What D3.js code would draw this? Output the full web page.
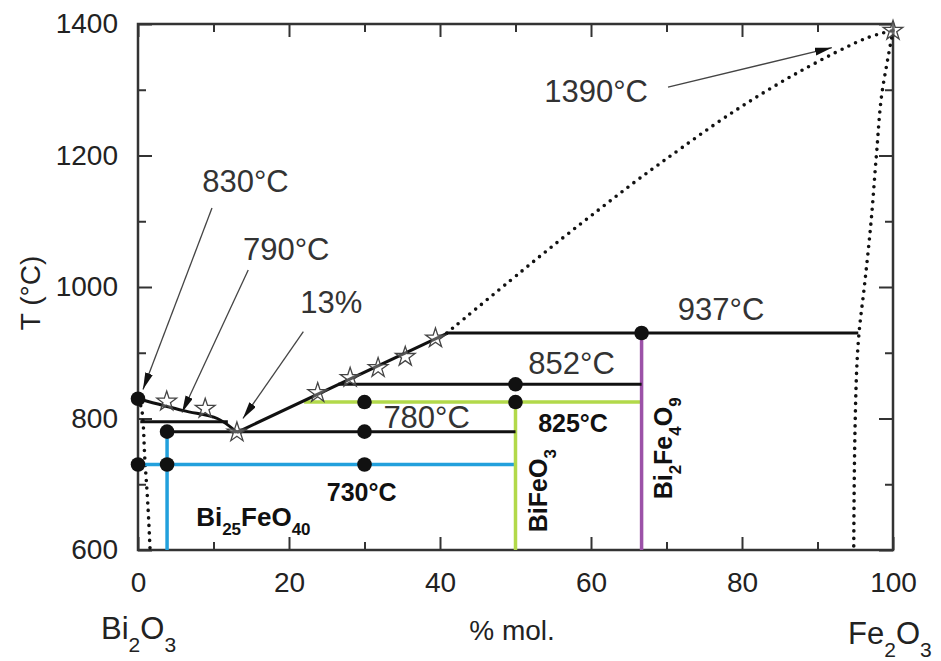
<!DOCTYPE html>
<html><head><meta charset="utf-8">
<script src="https://cdn.jsdelivr.net/npm/d3@7"></script>
<style>body{margin:0;background:#fff} svg{display:block} text{font-family:"Liberation Sans",Arial,Helvetica,sans-serif}</style>
</head><body><svg id="c" width="941" height="661"></svg>
<script>
// ---- data ----
const xMajorTicks = [0, 20, 40, 60, 80, 100];
const xMinorTicks = [10, 30, 50, 70, 90];
const yMajorTicks = [600, 800, 1000, 1200, 1400];
const yMinorTicks = [700, 900, 1100, 1300];

const liquidusLeft = [[0, 830], [6, 812], [10.5, 800], [13.1, 779]];
const liquidusRight = [[13.1, 779], [41, 930]];
const liquidusDotted = [[40.9, 930], [50.6, 1022], [56.3, 1075], [61.2, 1119], [65.6, 1158], [70, 1195], [78.8, 1266], [87.7, 1328], [96.6, 1379], [100, 1390]];
const solidusBi = [[0, 830], [0.55, 810], [0.9, 740], [1.3, 670], [1.6, 600]];
const solidusFe = [[100, 1390], [99.2, 1340], [98.6, 1300], [97.8, 1200], [97.1, 1100], [96.2, 1000], [95.5, 930], [95.0, 800], [94.8, 600]];

// tie lines: [xStart, xEnd, T]
const blackTies = [[0.3, 11.9, 795], [3.85, 50, 780], [26.5, 66.7, 852], [40.9, 95.4, 930]];
const greenTies = [[22, 66.7, 825]];
const blueTies = [[0, 50, 730]];
// vertical compound lines: [x, Ttop, Tbottom]
const blueVert = [[3.85, 780, 600]];
const greenVert = [[50, 825, 600]];
const purpleVert = [[66.7, 930, 600]];

const dots = [[0, 830], [0, 730], [3.85, 780], [3.85, 730], [30, 825], [30, 780], [30, 730], [50, 852], [50, 825], [66.7, 930]];
const stars = [[3.8, 826], [8.9, 815], [13.1, 779], [23.8, 839], [28.1, 862], [31.8, 877], [35.4, 894], [39.4, 922], [100, 1390]];

// annotations: text, x, T
const labels = [["830°C", 8.5, 1145], ["790°C", 13.9, 1041], ["13%", 21.5, 961], ["1390°C", 53.8, 1282],
  ["937°C", 71.5, 950], ["852°C", 51.7, 867], ["780°C", 32.5, 786]];
const boldLabels = [["825°C", 53, 780], ["730°C", 25, 674]];
// arrows: [x1,T1,x2,T2]
const arrows = [[9.8, 1120, 0.66, 844], [14.6, 1026, 5.83, 809], [21.9, 932, 13.9, 800], [70.2, 1304, 91.9, 1364]];

// ---- chart ----
const svg = d3.select("#c");
const x = d3.scaleLinear().domain([0, 100]).range([138, 893]);
const y = d3.scaleLinear().domain([600, 1400]).range([550, 24]);
const FS = 28;

svg.append("defs").append("marker").attr("id", "ah")
  .attr("markerUnits", "userSpaceOnUse").attr("markerWidth", 18).attr("markerHeight", 10)
  .attr("refX", 17).attr("refY", 4).attr("orient", "auto")
  .append("path").attr("d", "M0,0 L17,4 L0,8 Z").attr("fill", "#111");

const line = d3.line().x(d => x(d[0])).y(d => y(d[1]));
const curve = d3.line().x(d => x(d[0])).y(d => y(d[1])).curve(d3.curveCatmullRom);
const curveY = d3.line().x(d => x(d[0])).y(d => y(d[1])).curve(d3.curveMonotoneY);

// axes
function styleAxis(g) {
  g.select(".domain").remove();
  g.selectAll("line").attr("stroke", "#333").attr("stroke-width", 2);
  g.selectAll("text").attr("font-size", FS).attr("fill", "#222");
}
svg.append("g").attr("transform", `translate(0,${y(600)})`)
  .call(d3.axisBottom(x).tickValues(xMajorTicks).tickSize(-13).tickPadding(22).tickFormat(d3.format("d"))).call(styleAxis);
svg.append("g").attr("transform", `translate(0,${y(600)})`)
  .call(d3.axisBottom(x).tickValues(xMinorTicks).tickSize(-8).tickFormat("")).call(styleAxis);
svg.append("g").attr("transform", `translate(0,${y(1400)})`)
  .call(d3.axisTop(x).tickValues(xMajorTicks).tickSize(-13).tickFormat("")).call(styleAxis);
svg.append("g").attr("transform", `translate(0,${y(1400)})`)
  .call(d3.axisTop(x).tickValues(xMinorTicks).tickSize(-8).tickFormat("")).call(styleAxis);
svg.append("g").attr("transform", `translate(${x(0)},0)`)
  .call(d3.axisLeft(y).tickValues(yMajorTicks).tickSize(-14).tickPadding(20).tickFormat(d3.format("d"))).call(styleAxis);
svg.append("g").attr("transform", `translate(${x(0)},0)`)
  .call(d3.axisLeft(y).tickValues(yMinorTicks).tickSize(-8).tickFormat("")).call(styleAxis);
svg.append("g").attr("transform", `translate(${x(100)},0)`)
  .call(d3.axisRight(y).tickValues(yMajorTicks).tickSize(-14).tickFormat("")).call(styleAxis);
svg.append("g").attr("transform", `translate(${x(100)},0)`)
  .call(d3.axisRight(y).tickValues(yMinorTicks).tickSize(-8).tickFormat("")).call(styleAxis);

svg.append("rect").attr("x", x(0)).attr("y", y(1400)).attr("width", x(100) - x(0)).attr("height", y(600) - y(1400))
  .attr("fill", "none").attr("stroke", "#333").attr("stroke-width", 2.5);

// dotted curves
const dotted = g => g.attr("fill", "none").attr("stroke", "#111").attr("stroke-width", 3.6)
  .attr("stroke-linecap", "round").attr("stroke-dasharray", "0 7.5");
svg.append("path").datum(liquidusDotted).attr("d", curve).call(dotted);
svg.append("path").datum(solidusBi).attr("d", curveY).call(dotted);
svg.append("path").datum(solidusFe).attr("d", curveY).call(dotted);

// colored lines
const hline = (arr, color, w) => arr.forEach(d => svg.append("line")
  .attr("x1", x(d[0])).attr("x2", x(d[1])).attr("y1", y(d[2])).attr("y2", y(d[2]))
  .attr("stroke", color).attr("stroke-width", w));
const vline = (arr, color, w) => arr.forEach(d => svg.append("line")
  .attr("x1", x(d[0])).attr("x2", x(d[0])).attr("y1", y(d[1])).attr("y2", y(d[2]))
  .attr("stroke", color).attr("stroke-width", w));
hline(blueTies, "#22a0dc", 3.5);
vline(blueVert, "#22a0dc", 3.5);
hline(greenTies, "#b2d94a", 3.5);
vline(greenVert, "#b2d94a", 3.5);
vline(purpleVert, "#9c52a8", 3.5);
hline(blackTies, "#111", 3);

// liquidus solid
svg.append("path").datum(liquidusLeft).attr("d", curve).attr("fill", "none").attr("stroke", "#111").attr("stroke-width", 3);
svg.append("path").datum(liquidusRight).attr("d", line).attr("fill", "none").attr("stroke", "#111").attr("stroke-width", 3);

// arrows
arrows.forEach(a => svg.append("line").attr("x1", x(a[0])).attr("y1", y(a[1])).attr("x2", x(a[2])).attr("y2", y(a[3]))
  .attr("stroke", "#444").attr("stroke-width", 1.3).attr("marker-end", "url(#ah)"));

// dots
svg.selectAll("circle.pt").data(dots).enter().append("circle")
  .attr("cx", d => x(d[0])).attr("cy", d => y(d[1])).attr("r", 7.3).attr("fill", "#111");

// stars
const starPath = d3.symbol().type(d3.symbolStar).size(120);
svg.selectAll("path.st").data(stars).enter().append("path")
  .attr("d", starPath).attr("transform", d => `translate(${x(d[0])},${y(d[1])})`)
  .attr("fill", "#fff").attr("fill-opacity", 0.3).attr("stroke", "#444").attr("stroke-width", 1.3);

// labels
labels.forEach(l => svg.append("text").attr("x", x(l[1])).attr("y", y(l[2]))
  .attr("font-size", 31).attr("fill", "#333").text(l[0]));
boldLabels.forEach(l => svg.append("text").attr("x", x(l[1])).attr("y", y(l[2]))
  .attr("font-size", 25).attr("font-weight", "bold").attr("fill", "#111").text(l[0]));

// chemical formula helper
function formula(sel, parts, fs, sfs, sub) {
  let inSub = false;
  parts.forEach(p => {
    if (typeof p === "string") { sel.append("tspan").attr("font-size", fs).attr("dy", inSub ? -sub : 0).text(p); inSub = false; }
    else { sel.append("tspan").attr("font-size", sfs).attr("dy", inSub ? 0 : sub).text(p[0]); inSub = true; }
  });
}
const t1 = svg.append("text").attr("x", x(7.7)).attr("y", y(636)).attr("font-weight", "bold").attr("fill", "#111");
formula(t1, ["Bi", ["25"], "FeO", ["40"]], 26, 17, 9);
const t2 = svg.append("text").attr("transform", `translate(${x(54.2)},${y(627)}) rotate(-90)`).attr("font-weight", "bold").attr("fill", "#111");
formula(t2, ["BiFeO", ["3"]], 25, 17, 9);
const t3 = svg.append("text").attr("transform", `translate(${x(70.7)},${y(677)}) rotate(-90)`).attr("font-weight", "bold").attr("fill", "#111");
formula(t3, ["Bi", ["2"], "Fe", ["4"], "O", ["9"]], 25, 17, 9);

// axis titles
svg.append("text").attr("transform", "translate(40,293) rotate(-90)").attr("text-anchor", "middle")
  .attr("font-size", 28).attr("fill", "#222").text("T (°C)");
svg.append("text").attr("x", 512).attr("y", 640).attr("text-anchor", "middle")
  .attr("font-size", 28).attr("fill", "#222").text("% mol.");
const t4 = svg.append("text").attr("x", 101).attr("y", 639).attr("fill", "#222");
formula(t4, ["Bi", ["2"], "O", ["3"]], 31, 21, 13);
const t5 = svg.append("text").attr("x", 848).attr("y", 644).attr("fill", "#222");
formula(t5, ["Fe", ["2"], "O", ["3"]], 31, 21, 13);
</script></body></html>
